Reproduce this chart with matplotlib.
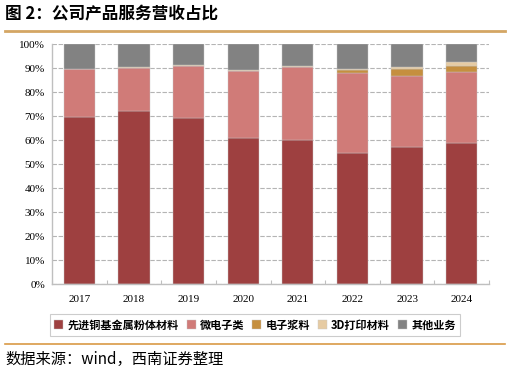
import matplotlib
matplotlib.use("Agg")
import matplotlib.pyplot as plt
import numpy as np
from matplotlib.lines import Line2D

plt.rcParams['font.family'] = ['Liberation Serif', 'Noto Sans CJK SC', 'DejaVu Sans']

years = ['2017', '2018', '2019', '2020', '2021', '2022', '2023', '2024']
series_names = ['先进铜基金属粉体材料', '微电子类', '电子浆料', '3D打印材料', '其他业务']
copper = [69.5, 72.1, 69.0, 60.8, 60.1, 54.6, 57.1, 58.9]
micro = [20.0, 18.1, 21.9, 28.1, 30.2, 33.3, 29.7, 29.3]
paste = [0.0, 0.0, 0.0, 0.0, 0.0, 1.1, 2.9, 2.8]
printing3d = [0.0, 0.3, 0.3, 0.4, 0.5, 0.6, 0.7, 1.7]
other = [10.5, 9.5, 8.8, 10.7, 9.2, 10.4, 9.6, 7.3]
colors = ['#9E4040', '#D07B78', '#C58F3F', '#E6CBA3', '#828282']
yticks = [0, 10, 20, 30, 40, 50, 60, 70, 80, 90, 100]

W, H = 511, 376
fig = plt.figure(figsize=(W / 100, H / 100), dpi=100)
ax = fig.add_axes([52 / W, 1 - 284 / H, (489 - 52) / W, (284 - 44) / H])

x = np.arange(len(years))
bottom = np.zeros(len(years))
for name, vals, c in zip(series_names, [copper, micro, paste, printing3d, other], colors):
    vals = np.array(vals)
    ax.bar(x, vals, 0.57, bottom=bottom, color=c, label=name, zorder=3,
           edgecolor='#c8c8c8', linewidth=0.3)
    bottom += vals

ax.set_xlim(-0.5, len(years) - 0.5)
ax.set_ylim(0, 100)
ax.set_yticks(yticks)
ax.set_yticklabels([f'{v}%' for v in yticks], fontsize=8, family='Liberation Serif')
ax.set_xticks(x)
ax.set_xticklabels(years, fontsize=8, family='Liberation Serif')
ax.set_xticks(np.arange(len(years) + 1) - 0.5, minor=True)
ax.tick_params(axis='x', which='major', length=0, pad=8)
ax.tick_params(axis='x', which='minor', length=3, direction='in', color='#bfbfbf', width=0.8)
ax.tick_params(axis='y', length=0, pad=5)
ax.yaxis.grid(True, color='#b4b4b4', linestyle=(0, (4, 1.5)), linewidth=0.8, zorder=0)
for s in ['top', 'right']:
    ax.spines[s].set_visible(False)
for s in ['left', 'bottom']:
    ax.spines[s].set_color('#bfbfbf')
    ax.spines[s].set_linewidth(1.0)
    ax.spines[s].set_zorder(4)

leg = fig.legend(loc='center', bbox_to_anchor=(255 / W, 1 - 325 / H), ncol=5,
                 prop={'family': ['Noto Sans CJK SC'], 'weight': 'bold', 'size': 8},
                 handlelength=0.8, handleheight=0.8, handletextpad=0.4, columnspacing=0.7,
                 frameon=True, fancybox=False, edgecolor='#c0c0c0', borderpad=0.4)
leg.get_frame().set_linewidth(0.8)

fig.text(5 / W, 1 - 14 / H, '图 2：公司产品服务营收占比', fontsize=12, fontweight='bold',
         family=['Noto Sans CJK SC'], ha='left', va='center')
fig.add_artist(Line2D([5 / W, 505 / W], [1 - 31 / H, 1 - 31 / H], color='#D4A664', linewidth=2))
fig.add_artist(Line2D([5 / W, 505 / W], [1 - 344 / H, 1 - 344 / H], color='#D99A46', linewidth=1.2))
fig.text(5 / W, 1 - 359 / H, '数据来源：wind，西南证券整理', fontsize=11, style='italic',
         family=['Noto Sans CJK SC'], ha='left', va='center')

fig.savefig('out.png', dpi=100)
